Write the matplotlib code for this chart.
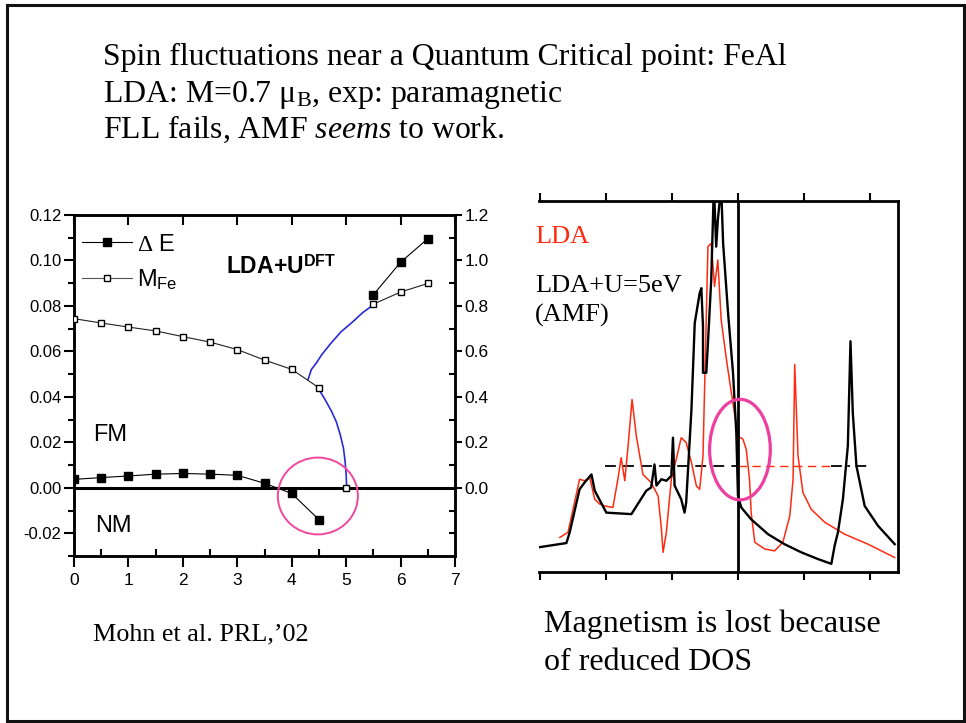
import numpy as np
import matplotlib
matplotlib.use("Agg")
import matplotlib.pyplot as plt
import matplotlib.patches as mpatches
from matplotlib.lines import Line2D
from matplotlib import font_manager

# Fonts
_names = {f.name for f in font_manager.fontManager.ttflist}
SANS = 'Liberation Sans Narrow' if 'Liberation Sans Narrow' in _names else 'Liberation Sans'
SERIF = 'Liberation Serif'
plt.rcParams['mathtext.fontset'] = 'custom'
plt.rcParams['mathtext.rm'] = SERIF
plt.rcParams['mathtext.it'] = SERIF + ':italic'
plt.rcParams['mathtext.sf'] = SANS
plt.rcParams['mathtext.bf'] = SANS + ':bold'

# ---- left panel data (Mohn et al.) ----
u_de = [0, 0.5, 1, 1.5, 2, 2.5, 3, 3.5, 4, 4.5, 5.5, 6, 6.5]
delta_e = [0.0037, 0.0045, 0.0052, 0.0060, 0.0063, 0.0060, 0.0055, 0.0020, -0.0025, -0.0140,
           0.0849, 0.0992, 0.1096]
u_m = [0, 0.5, 1, 1.5, 2, 2.5, 3, 3.5, 4, 4.5, 5, 5.5, 6, 6.5]
m_fe = [0.744, 0.725, 0.707, 0.690, 0.665, 0.641, 0.608, 0.562, 0.521, 0.440, 0.0,
        0.808, 0.861, 0.899]
# hand drawn blue guide curves (in left-axis units)
blue_up_u = [4.30, 4.36, 4.45, 4.55, 4.70, 4.90, 5.13, 5.30, 5.50]
blue_up_y = [0.0476, 0.0520, 0.0548, 0.0585, 0.0630, 0.0685, 0.0732, 0.0770, 0.0805]
blue_dn_u = [4.52, 4.62, 4.73, 4.82, 4.89, 4.95, 4.98, 5.00, 5.01]
blue_dn_y = [0.0425, 0.0385, 0.0337, 0.0290, 0.0235, 0.0175, 0.0118, 0.0060, 0.0]

# ---- right panel data (DOS) ----
e_lda_u = [-6.08, -5.20, -5.10, -4.80, -4.65, -4.44, -4.34, -3.99, -3.23, -2.78, -2.63, -2.53,
           -2.47, -2.32, -2.17, -2.02, -1.97, -1.92, -1.72, -1.62, -1.57, -1.41, -1.31, -1.16,
           -1.11, -1.06, -1.06, -0.96, -0.91, -0.81, -0.73, -0.66, -0.61, -0.51, -0.45, -0.30,
           -0.15, -0.05, 0.0, 0.10, 0.40, 0.91, 1.41, 1.92, 2.42, 2.83, 2.93, 3.03, 3.18, 3.33,
           3.41, 3.48, 3.59, 3.84, 4.24, 4.75]
dos_lda_u = [0.66, 0.78, 1.07, 2.23, 2.41, 2.63, 2.19, 1.60, 1.56, 2.19, 2.28, 2.90,
             2.33, 2.50, 2.46, 2.59, 3.62, 2.33, 1.96, 1.60, 1.87, 4.38, 6.71, 7.52,
             7.65, 6.62, 5.37, 5.37, 6.17, 7.88, 10.4, 8.77, 9.49, 10.4, 8.86, 6.98,
             5.37, 3.75, 2.05, 1.74, 1.42, 1.02, 0.75, 0.53, 0.35, 0.22, 0.71, 1.07, 1.96, 3.40,
             6.22, 4.29, 2.86, 1.78, 1.25, 0.75]
e_lda = [-5.40, -5.15, -4.80, -4.65, -4.49, -4.34, -4.19, -4.04, -3.79, -3.64, -3.54, -3.43,
         -3.33, -3.21, -3.08, -2.88, -2.63, -2.42, -2.32, -2.27, -2.17, -2.02, -1.87, -1.72,
         -1.57, -1.41, -1.26, -1.16, -1.06, -0.91, -0.81, -0.71, -0.61, -0.51, -0.35, -0.20,
         0.0, 0.15, 0.25, 0.35, 0.40, 0.51, 0.81, 1.11, 1.36, 1.57, 1.67, 1.72, 1.82, 1.97,
         2.22, 2.63, 3.23, 3.94, 4.75]
dos_lda = [0.93, 1.07, 2.50, 2.46, 2.54, 1.96, 1.83, 1.78, 1.74, 2.50, 3.08, 2.46,
           3.40, 4.65, 3.66, 2.63, 2.41, 2.05, 1.16, 0.53, 1.07, 2.50, 3.04, 3.62,
           3.49, 2.95, 2.32, 2.23, 3.13, 8.77, 8.86, 7.70, 8.41, 6.80, 5.73, 4.83,
           3.66, 3.58, 3.31, 2.50, 1.60, 0.80, 0.62, 0.57, 0.80, 1.51, 2.50, 5.59, 3.13, 2.14,
           1.69, 1.34, 1.02, 0.75, 0.39]
dos_level = 2.86
x_ticks_dos = [-6, -4, -2, 0, 2, 4]

fig = plt.figure(figsize=(9.66, 7.23), dpi=100)
fig.patch.set_facecolor('white')

# slide frame
fig.add_artist(mpatches.Rectangle((7 / 966, 2 / 723), 957 / 966, 716 / 723,
                                  transform=fig.transFigure, fill=False, lw=2.2, ec='#111111'))

# slide text
def px_text(x, y, s, **kw):
    fig.text(x / 966, 1 - y / 723, s, va='baseline', ha='left', **kw)

px_text(103, 65, 'Spin fluctuations near a Quantum Critical point: FeAl', family=SERIF, fontsize=22.9)
px_text(103, 102, r'LDA: M=0.7 $\mathrm{\mu}_{\mathrm{B}}$, exp: paramagnetic', family=SERIF, fontsize=22.9)
px_text(103, 138, r'FLL fails, AMF $\mathit{seems}$ to work.', family=SERIF, fontsize=22.9)
px_text(93, 640, "Mohn et al. PRL,\u201902", family=SERIF, fontsize=18.8)
px_text(544, 632, 'Magnetism is lost because', family=SERIF, fontsize=23)
px_text(544, 670, 'of reduced DOS', family=SERIF, fontsize=23)

# ---------------- left panel ----------------
ax = fig.add_axes([74 / 966, 1 - 556 / 723, 381 / 966, 341 / 723])
ax2 = ax.twinx()
ax.set_xlim(0, 7)
ax.set_ylim(-0.03, 0.12)
ax2.set_ylim(-0.3, 1.2)

ax.axhline(0, color='black', lw=2.2, zorder=2)

de = np.array(delta_e)
ud = np.array(u_de)
lo = ud < 5
ax.plot(ud[lo], de[lo], '-', color='black', lw=0.8, zorder=3)
ax.plot(ud[~lo], de[~lo], '-', color='black', lw=0.8, zorder=3)
ax.plot(ud, de, 's', color='black', ms=5.5, zorder=4)

m = np.array(m_fe)
um = np.array(u_m)
ax2.plot(um[um < 5], m[um < 5], '-', color='#222222', lw=0.8, zorder=3)
ax2.plot(um[um > 5], m[um > 5], '-', color='#222222', lw=0.8, zorder=3)
ax2.plot(um, m, 's', mfc='white', mec='black', mew=1.0, ms=5, zorder=4)

ax.plot(blue_up_u, blue_up_y, color='#2a2ad6', lw=1.2, zorder=3)
ax.plot(blue_dn_u, blue_dn_y, color='#2a2ad6', lw=1.2, zorder=3)

ax.add_patch(mpatches.Ellipse((4.48, -0.0036), 1.47, 0.0338, fill=False,
                              ec='#f0479c', lw=1.4, zorder=5))

ax.text(0.35, 0.0205, 'FM', family=SANS, fontsize=17, va='baseline')
ax.text(0.39, -0.0195, 'NM', family=SANS, fontsize=17, va='baseline')
ax.text(2.80, 0.0941, r'LDA+U$^{\mathbf{DFT}}$', family=SANS, fontsize=16.5,
        fontweight='bold', va='baseline')

handles = [Line2D([], [], color='black', lw=0.8, marker='s', ms=5.5, mfc='black'),
           Line2D([], [], color='#555555', lw=0.8, marker='s', ms=5, mfc='white', mec='black')]
ax.legend(handles, [r'$\Delta$ E', r'M$_{\mathsf{Fe}}$'], loc='upper left',
          bbox_to_anchor=(0.022, 0.945), frameon=False, borderpad=0, borderaxespad=0,
          handlelength=2.1, handletextpad=0.22, labelspacing=0.5,
          prop={'family': SANS, 'size': 17})

for a in (ax, ax2):
    for s in a.spines.values():
        s.set_linewidth(1.8)

ax.set_xticks(range(0, 8))
ax.set_xticks(np.arange(0.5, 7, 1), minor=True)
ax.set_yticks(np.arange(-0.02, 0.121, 0.02))
ax.set_yticks(np.arange(-0.03, 0.12, 0.02), minor=True)
ax.set_yticklabels(['-0.02', '0.00', '0.02', '0.04', '0.06', '0.08', '0.10', '0.12'])
ax.tick_params(axis='x', which='major', direction='out', length=8, width=1.5, pad=4,
               labelsize=12.5)
ax.tick_params(axis='x', which='minor', direction='in', length=5, width=1.5)
ax.tick_params(axis='y', which='major', direction='out', length=7, width=1.5, pad=2,
               labelsize=12)
ax.tick_params(axis='y', which='minor', direction='out', length=4, width=1.5)
for lab in ax.get_xticklabels() + ax.get_yticklabels():
    lab.set_family(SANS)

ax2.set_yticks(np.arange(0, 1.21, 0.2))
ax2.set_yticks(np.arange(-0.2, 1.2, 0.1), minor=True)
ax2.set_yticklabels(['0.0', '0.2', '0.4', '0.6', '0.8', '1.0', '1.2'])
ax2.tick_params(axis='y', which='major', direction='out', length=5, width=1.5, pad=2,
                labelsize=12.5)
ax2.tick_params(axis='y', which='minor', direction='in', length=4, width=1.5)
for lab in ax2.get_yticklabels():
    lab.set_family(SANS)

top = ax.secondary_xaxis('top')
top.set_xticks(range(0, 8))
top.tick_params(direction='in', length=7, width=1.5, labeltop=False)
top.set_xticklabels([])

# ---------------- right panel ----------------
bx = fig.add_axes([539 / 966, 1 - 572 / 723, 359 / 966, 371 / 723])
bx.set_xlim(-6.03, 4.85)
bx.set_ylim(0, 10)
bx.plot(e_lda, dos_lda, color='#ff2a10', lw=1.1, zorder=3)
bx.plot(e_lda_u, dos_lda_u, color='black', lw=1.7, zorder=4)
bx.axvline(0, color='black', lw=2, zorder=5)
bx.plot([-4.04, 0], [dos_level, dos_level], color='black', lw=1.3, ls=(0, (6, 4)), zorder=2)
bx.plot([0, 2.83], [dos_level, dos_level], color='#ff2a10', lw=1.0, ls=(0, (6, 4)), zorder=2)
bx.plot([2.83, 4.04], [dos_level, dos_level], color='black', lw=1.3, ls=(0, (6, 3, 1.5, 3)),
        zorder=2)
bx.add_patch(mpatches.Ellipse((0.06, 3.30), 1.84, 2.71, fill=False, ec='#ee3ea0', lw=2.3,
                              zorder=6))
bx.spines['left'].set_visible(False)
for k in ('top', 'right', 'bottom'):
    bx.spines[k].set_linewidth(2)
bx.set_xticks(x_ticks_dos)
bx.set_yticks([])
bx.tick_params(axis='x', direction='out', length=6, width=1.5, top=True, labelbottom=False)

px_text(535, 243, 'LDA', family=SERIF, fontsize=19, color='#ff2a10')
px_text(535, 292, 'LDA+U=5eV', family=SERIF, fontsize=19)
px_text(535, 322, '(AMF)', family=SERIF, fontsize=19)

fig.savefig('out.png', dpi=100, facecolor='white')
